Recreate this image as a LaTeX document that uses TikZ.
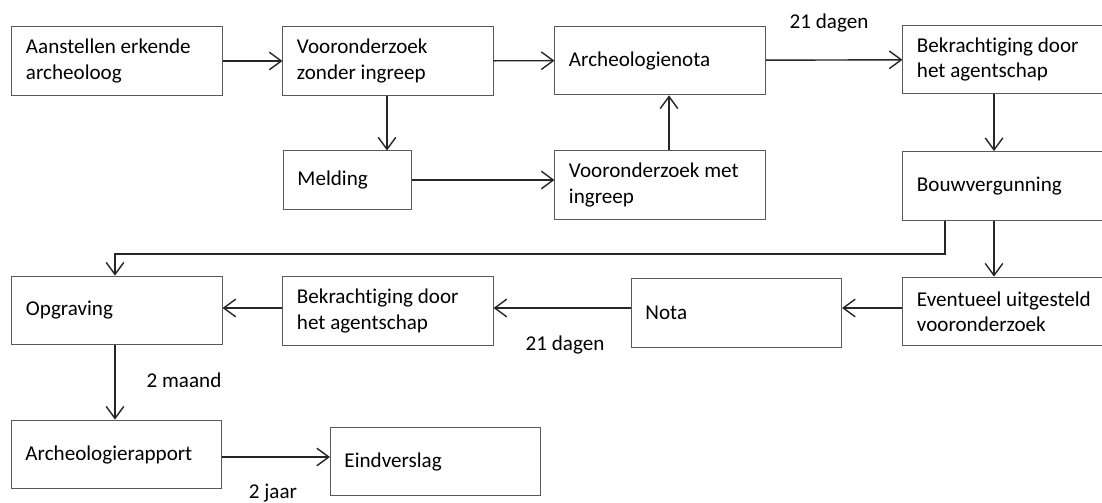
\documentclass[tikz,border=0pt]{standalone}
\usepackage{fontspec}
\setmainfont{Carlito}[Ligatures=NoCommon]
\usepackage{tikz}
\usetikzlibrary{arrows.meta}
\tikzset{box/.style={draw=black!65, line width=0.7pt, inner xsep=0.35cm, inner ysep=0pt,
   text width=4.55cm, minimum height=1.72cm, align=flush left,
   font=\fontsize{15}{18}\selectfont},
 small box/.style={box, text width=2.5cm, minimum height=1.45cm},
 flow/.style={draw=black!85, line width=1pt,
   -{Straight Barb[length=3mm,width=4.4mm,line width=1pt]}},
 lbl/.style={font=\fontsize{15}{18}\selectfont, inner sep=0pt},
 }

\begin{document}
\begin{tikzpicture}[x=0.025cm,y=-0.025cm]
        \useasboundingbox (0,0) rectangle (1102,503);
        \node[box] (aanst) at (117,61) {Aanstellen erkende\\archeoloog};
        \node[box] (vzonder) at (388,61) {Vooronderzoek\\zonder ingreep};
        \node[small box] (melding) at (347.5,180) {Melding};
        \node[box] (anota) at (660,60.5) {Archeologienota};
        \node[box] (vmet) at (660,185) {Vooronderzoek met\\ingreep};
        \node[box] (bekr1) at (1008,59.5) {Bekrachtiging door\\het agentschap};
        \node[box] (bouw) at (1008,186) {Bouwvergunning};
        \node[box] (event) at (1008,311.5) {Eventueel uitgesteld\\vooronderzoek};
        \node[box] (nota) at (736.5,313) {Nota};
        \node[box] (bekr2) at (388,311) {Bekrachtiging door\\het agentschap};
        \node[box] (opgr) at (117,310.5) {Opgraving};
        \node[box] (rapport) at (116.5,454.5) {Archeologierapport};
        \node[box] (eind) at (435.5,461.5) {Eindverslag};
        \node[lbl] (dag1) at (829,23) {21 dagen};
        \node[lbl] (dag2) at (565,345) {21 dagen};
        \node[lbl] (maand) at (184,380) {2 maand};
        \node[lbl, anchor=south] (jaar) at (273,502) {2 jaar};
        \coordinate (knik1) at (945,254);
        \coordinate (knik2) at (115,254);
        \draw[flow] (aanst) -- (vzonder);
        \draw[flow] (vzonder) -- (anota);
        \draw[flow] (vzonder.south -| 387,0) -- (melding.north -| 387,0);
        \draw[flow] (melding.east) -- (vmet.west |- melding.east);
        \draw[flow] (vmet.north -| 669,0) -- (anota.south -| 669,0);
        \draw[flow] (anota) -- (bekr1);
        \draw[flow] (bekr1.south -| 994,0) -- (bouw.north -| 994,0);
        \draw[flow] (bouw.south -| 994,0) -- (event.north -| 994,0);
        \draw[flow] (bouw.south -| knik1) -- (knik1) -- (knik2) -- (opgr.north -| knik2);
        \draw[flow] (event.west |- 0,308) -- (nota.east |- 0,308);
        \draw[flow] (nota.west |- 0,308) -- (bekr2.east |- 0,308);
        \draw[flow] (bekr2.west |- 0,308) -- (opgr.east |- 0,308);
        \draw[flow] (opgr.south -| 115,0) -- (rapport.north -| 115,0);
        \draw[flow] (rapport.east |- 0,457) -- (eind.west |- 0,457);
    \end{tikzpicture}
\end{document}
